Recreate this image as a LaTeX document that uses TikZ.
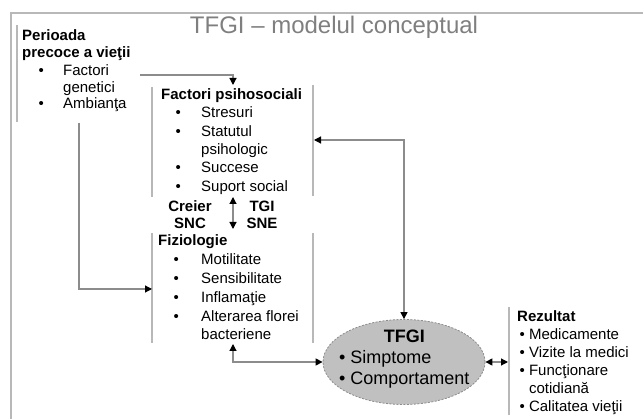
\documentclass[tikz,border=0pt]{standalone}
\usepackage{fontspec}
\setmainfont{Liberation Sans}
\usetikzlibrary{positioning,shapes.geometric,arrows.meta}
\definecolor{linegray}{HTML}{B8B8B8}
\definecolor{conngray}{HTML}{8C8C8C}
\definecolor{titlegray}{HTML}{7F7F7F}
\definecolor{ovalgray}{HTML}{C0C0C0}
\newcommand{\bul}[1][25pt]{\makebox[#1][l]{\textbullet}}
\tikzset{
	bracket/.style={draw=linegray, line width=1.4pt},
	conn/.style={draw=conngray, line width=1.2pt, -{Triangle[length=7pt,width=7pt,color=black]}},
	dconn/.style={conn, {Triangle[length=7pt,width=7pt,color=black]}-{Triangle[length=7pt,width=7pt,color=black]}},
	txt/.style={inner sep=0pt, anchor=base west, font=\fontsize{15}{18.3}\selectfont},
	head/.style={inner sep=0pt, anchor=base west, font=\bfseries\fontsize{15}{16.5}\selectfont},
}

\begin{document}
\begin{tikzpicture}[x=1pt, y=-1pt]
	\useasboundingbox (0,0) rectangle (643,419);
	% frame and title
	\draw[bracket] (11,419) -- (11,13) -- (643,13);
	\node (title) [inner sep=0pt, text=titlegray, font=\fontsize{24}{28}\selectfont] at (334,27) {TFGI – modelul conceptual};

	% early life
	\draw[bracket] (17,25) -- (17,122);
	\node (early) [head] at (22,41) {\begin{tabular}[t]{@{}l@{}}Perioada\\precoce a vieţii\end{tabular}};
	\node (earlylist) [txt, font=\fontsize{15}{16.5}\selectfont] at (38.4,76) {\begin{tabular}[t]{@{}l@{}}
			\bul[24.6pt]Factori\\
			\hspace*{24.6pt}genetici\\
			\bul[24.6pt]Ambianţa
		\end{tabular}};

	% psychosocial factors
	\draw[bracket] (152,87) -- (152,197);
	\draw[bracket] (313,85) -- (313,196);
	\node (psyhead) [head] at (161,100) {Factori psihosociali};
	\node (psylist) [txt] at (175.4,118) {\begin{tabular}[t]{@{}l@{}}
			\bul[25.6pt]Stresuri\\
			\bul[25.6pt]Statutul\\
			\hspace*{25.6pt}psihologic\\
			\bul[25.6pt]Succese\\
			\bul[25.6pt]Suport social
		\end{tabular}};
	\node (brain) [head, anchor=base] at (190,212) {\begin{tabular}[t]{@{}c@{}}Creier\\SNC\end{tabular}};
	\node (gut) [head, anchor=base] at (262,212) {\begin{tabular}[t]{@{}c@{}}TGI\\SNE\end{tabular}};

	% physiology
	\draw[bracket] (152,233) -- (152,343);
	\draw[bracket] (313,233) -- (313,343);
	\node (fizhead) [head] at (158,246) {Fiziologie};
	\node (fizlist) [txt, font=\fontsize{15}{18.75}\selectfont] at (173.4,265) {\begin{tabular}[t]{@{}l@{}}
			\bul[27.6pt]Motilitate\\
			\bul[27.6pt]Sensibilitate\\
			\bul[27.6pt]Inflamaţie\\
			\bul[27.6pt]Alterarea florei\\
			\hspace*{27.6pt}bacteriene
		\end{tabular}};

	% central oval
	\node (tfgi) [ellipse, fill=ovalgray, draw=conngray, line width=0.8pt, dash pattern=on 2pt off 1.5pt, minimum width=162pt, minimum height=85pt, inner sep=0pt] at (404,362) {};
	\node (tfgitext) [inner sep=0pt, anchor=base west, font=\fontsize{18}{21}\selectfont] at (338.9,343) {\begin{tabular}[t]{@{}l@{}}
			\multicolumn{1}{@{}c@{}}{\textbf{TFGI}}\\
			\textbullet\ Simptome\\
			\textbullet\ Comportament
		\end{tabular}};

	% outcome
	\draw[bracket] (509,307) -- (509,415);
	\node (rezhead) [head] at (517,322) {Rezultat};
	\node (rezlist) [txt, font=\fontsize{15}{18}\selectfont] at (519.4,340) {\begin{tabular}[t]{@{}l@{}}
			\textbullet\ Medicamente\\
			\textbullet\ Vizite la medici\\
			\textbullet\ Funcţionare\\
			\phantom{\textbullet\ }cotidiană\\
			\textbullet\ Calitatea vieţii
		\end{tabular}};

	% connectors
	\coordinate (genR) at (140,75);
	\coordinate (psyT) at (233,85);
	\coordinate (ambB) at (79,123);
	\coordinate (fizL) at (152,289);
	\coordinate (psyR) at (314,140);
	\coordinate (psyB) at (233,197);
	\coordinate (fizT) at (233,229);
	\coordinate (fizB) at (233,344);
	\coordinate (rezL) at (508,362);
	\draw[conn] (genR) -| (psyT);
	\draw[conn] (ambB) |- (fizL);
	\draw[dconn] (psyR) -| (tfgi.north);
	\draw[dconn] (psyB) -- (fizT);
	\draw[dconn] (fizB) |- (tfgi.west);
	\draw[dconn] (tfgi.east) -- (rezL);
\end{tikzpicture}
\end{document}
